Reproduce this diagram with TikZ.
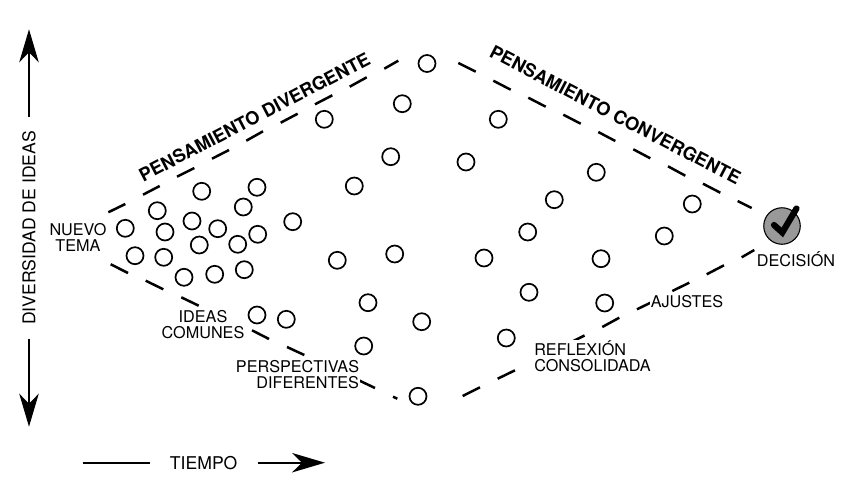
\documentclass[tikz,border=0pt]{standalone}
\usepackage{fontspec}
\setmainfont{TeX Gyre Heros}
\usetikzlibrary{arrows.meta}
\tikzset{
  x=1pt,y=-1pt,
  idea/.style={circle,draw=black,line width=1.7pt,minimum size=17pt,inner sep=0pt,fill=white},
  lane/.style={line width=2.5pt,black},
  axis/.style={line width=1.6pt,black,-{Stealth[length=33pt,width=19.5pt,inset=10pt]}},
  axisplain/.style={line width=1.6pt,black},
  lbl/.style={align=center,inner sep=0pt,font=\fontsize{16.2}{16}\selectfont},
  axlbl/.style={inner sep=0pt,font=\fontsize{17.6}{18}\selectfont},
  title/.style={inner sep=0pt,font=\fontsize{18.3}{20}\selectfont\bfseries},
}
\begin{document}
\begin{tikzpicture}
\useasboundingbox (0,0) rectangle (855,496);
\fill[white] (0,0) rectangle (855,496);
% dashes
\foreach \a/\b/\c/\d in {
108.3/212.3/125.3/204, 143/194.7/159.7/186, 177/176.7/194.3/168, 212/158.7/229/150,
246.3/140.7/263/131.3, 280.7/122.7/297.7/113.7, 315/104.3/332.3/95.3, 349.7/86.7/366.7/77.3, 384.3/68.7/398.3/60.7,
458.3/63/475.7/71.7, 493.3/80.7/510.7/89.7, 528.3/97.7/545.7/106.7, 563.3/114.7/580.7/123.7,
598.3/132/615.3/141, 633.3/149.3/650.3/158.3, 668/166.3/685.3/175.7, 703/183.7/720.3/192.7, 737.7/201/751.7/208,
741.7/257.3/754.3/250, 706.7/274.3/724/265.3, 672.3/291/689.3/282.7, 637/309.3/654/301,
602.3/327/619.3/317.7, 567.5/344/584.5/335.5, 497.7/378.7/515/370.3, 462.7/396/480/387.3,
110.7/264.3/128/273, 145.7/280.7/163.3/289.3, 181.3/297.3/198.7/305.7, 252/330.3/269/339,
287/347/304.3/355, 355/378.5/375/388, 393/396.7/397.3/398.7}
  \draw[lane] (\a,\b) -- (\c,\d);
% ideas
\foreach \n/\x/\y in {
a/427/63.5, b/402.3/103.7, c/324.3/119.3, d/390.7/156.7, e/354.3/186, f/257/187.3, g/201.7/191.3, h/243.3/207,
i/157.3/210.7, j/292.7/221.7, k/192/221, l/125.3/228.3, m/217.7/228.7, n/165/232, o/257.7/234.3, p/199.3/245,
q/237.7/244.3, r/135/255.7, s/163.7/257.3, t/184/277.3, u/214.7/274.3, v/244.3/269.7, w/337.3/260.3, x/394.7/254,
y/368/302.7, z/257/315, aa/286.3/319.3, ab/421.7/321.7, ac/363.7/346, ad/418/396.3,
ae/498.3/119.3, af/466/162, ag/596.3/172.3, ah/554.3/199.7, ai/692.3/204, aj/527.7/232, ak/664.3/236, al/484/258,
am/601/258.7, an/529/292.3, ao/604.7/303, ap/506.3/338}
  \node[idea] (\n) at (\x,\y) {};
% decision
\node[circle,draw=black,line width=1.1pt,fill=black!40,minimum size=36.5pt,inner sep=0pt] (dec) at (782,226) {};
\draw[line width=6.2pt,line cap=round,line join=miter,black] ([shift={(-8,-1)}]dec.center) -- ([shift={(0.3,6.5)}]dec.center) -- ([shift={(14.5,-17.5)}]dec.center);
% labels
\node[lbl] (nuevo) at (78,237.5) {NUEVO\\TEMA};
\node[lbl,fill=white,inner sep=1pt] (comunes) at (203,325) {IDEAS\\COMUNES};
\node[lbl,align=right,fill=white,inner sep=1pt] (persp) at (297.5,375) {PERSPECTIVAS\\DIFERENTES};
\node[lbl,align=left,fill=white,inner sep=1pt] (reflex) at (592.5,356.5) {REFLEXIÓN\\CONSOLIDADA};
\node[lbl,fill=white,inner sep=1pt] (ajustes) at (687,302) {AJUSTES};
\node[lbl,fill=white,inner sep=1pt] (decision) at (796,259.5) {DECISIÓN};
\node[title,rotate=27.5] (diver) at (254.5,117) {PENSAMIENTO DIVERGENTE};
\node[title,rotate=-27.5] (conver) at (615.5,115) {PENSAMIENTO CONVERGENTE};
% axes
\node[axlbl,rotate=90] (dive) at (29,228) {DIVERSIDAD DE IDEAS};
\node[axlbl] (tiempo) at (203.7,463) {TIEMPO};
\coordinate (upA) at (29,117); \coordinate (upB) at (29,29.3);
\coordinate (dnA) at (29,338.7); \coordinate (dnB) at (29,426.7);
\coordinate (tA) at (82.7,462.7); \coordinate (tB) at (150,462.7);
\coordinate (tC) at (258.3,462.7); \coordinate (tD) at (325,462.7);
\draw[axis] (upA) -- (upB);
\draw[axis] (dnA) -- (dnB);
\draw[axisplain] (tA) -- (tB);
\draw[axis] (tC) -- (tD);
\end{tikzpicture}
\end{document}
